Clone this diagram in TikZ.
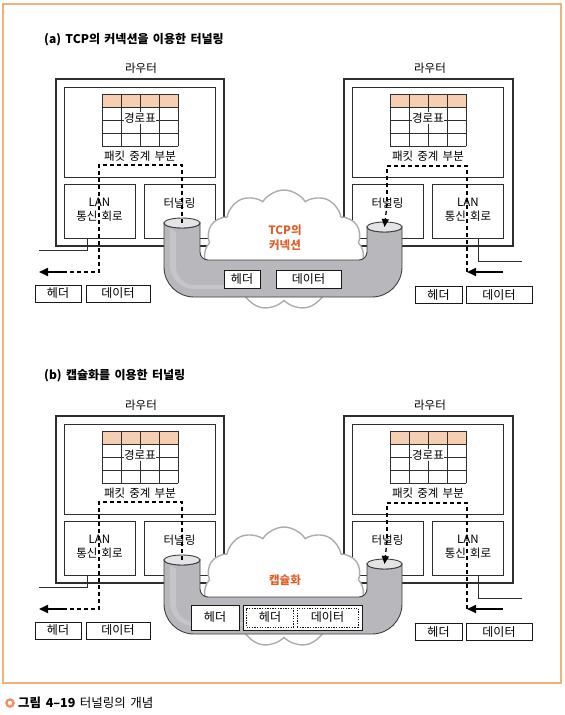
\documentclass[tikz,border=0pt]{standalone}
\usepackage{fontspec}
\setmainfont[WordSpace=1.6]{Noto Sans CJK KR}
\usetikzlibrary{shapes.symbols,shapes.geometric,arrows.meta}
\definecolor{frameor}{HTML}{F0B27A}
\definecolor{tblor}{HTML}{F6CFB2}
\definecolor{txtor}{HTML}{E0602A}
\definecolor{pipegray}{HTML}{B7B7BC}
\definecolor{pipetop}{HTML}{E4E4E6}
\definecolor{lineg}{HTML}{2E2E2E}
\tikzset{
  lbl/.style={font=\fontsize{11.5}{13.5}\selectfont, text=black, inner sep=1pt, align=center},
  titletxt/.style={font=\bfseries\fontsize{12}{14}\selectfont, text=black, anchor=west, inner sep=0pt},
  boxr/.style={draw=lineg, line width=0.9pt, inner sep=0pt},
  outerbox/.style={draw=lineg, line width=1.1pt},
  gridline/.style={draw=lineg, line width=0.7pt},
  pathdash/.style={draw=black, line width=1.3pt, dash pattern=on 4pt off 3pt},
  bigarrow/.style={draw=black, line width=1.7pt, -{Triangle[length=9pt,width=8pt]}},
  downarrow/.style={draw=black, line width=1.3pt, dash pattern=on 4pt off 3pt, -{Triangle[length=8pt,width=7pt]}},
  wire/.style={draw=lineg, line width=1pt},
  databox/.style={draw=black!90, line width=1pt, fill=white, inner sep=0pt, font=\fontsize{12}{13}\selectfont},
  dotbox/.style={draw=black!90, line width=0.9pt, dash pattern=on 1.3pt off 1.3pt, fill=white, inner sep=0pt, font=\fontsize{12}{13}\selectfont},
  pipeline/.style={draw=black!75, line width=0.9pt},
  cloudtxt/.style={font=\bfseries\fontsize{11.5}{15}\selectfont, text=txtor, align=center, inner sep=0pt},
}
\newcommand\routertable[1]{%
  \fill[tblor] (#1-38,94) rectangle (#1+38,107);
  \foreach \yy in {94,107,120,133,146} \draw[gridline] (#1-38,\yy) -- (#1+38,\yy);
  \foreach \xx in {-38,-19,0,19,38} \draw[gridline] (#1+\xx,94) -- (#1+\xx,146);
}
\newcommand\tunnelpanel{%
  % ---- left router
  \node[lbl] (rtl) at (141,68) {라우터};
  \node[outerbox, minimum width=168pt, minimum height=167pt, inner sep=0pt] (rl) at (140,162.5) {};
  \node[boxr, minimum width=151pt, minimum height=90pt] (rlt) at (139.5,132) {};
  \routertable{140}
  \node[lbl, fill=white, inner sep=0.6pt] (tbl) at (140,118) {경로표};
  \node[lbl] (rlp) at (140,156) {패킷 중계 부분};
  \node[boxr, minimum width=71pt, minimum height=54pt] (lanl) at (99.5,211) {};
  \node[boxr, minimum width=71pt, minimum height=54pt] (tunl) at (179.5,211) {};
  \node[lbl] (lanltxt) at (99.5,209.5) {LAN\\통신 회로};
  \node[lbl] (tunltxt) at (179.5,203) {터널링};
  % ---- right router
  \node[lbl] (rtr) at (430,68) {라우터};
  \node[outerbox, minimum width=169pt, minimum height=167pt, inner sep=0pt] (rr) at (428.5,162.5) {};
  \node[boxr, minimum width=151pt, minimum height=90pt] (rrt) at (427.5,132) {};
  \routertable{428}
  \node[lbl, fill=white, inner sep=0.6pt] (tbr) at (428,118) {경로표};
  \node[lbl] (rrp) at (428,156) {패킷 중계 부분};
  \node[boxr, minimum width=71pt, minimum height=54pt] (tunr) at (387.5,211) {};
  \node[boxr, minimum width=71pt, minimum height=54pt] (lanr) at (468,211) {};
  \node[lbl] (tunrtxt) at (387.5,203) {터널링};
  \node[lbl] (lanrtxt) at (468,209.5) {LAN\\통신 회로};
  % ---- wires
  \coordinate (wl1) at (87,250); \coordinate (wl2) at (39,250);
  \draw[wire] (lanl.south -| wl1) -- (wl1) -- (wl2);
  \coordinate (wr1) at (478,261); \coordinate (wr2) at (522,261);
  \draw[wire] (lanr.south -| wr1) -- (wr1) -- (wr2);
  % ---- outside packets
  \node[databox, minimum width=46pt, minimum height=17pt] (hl) at (58,293.5) {헤더};
  \node[databox, minimum width=64pt, minimum height=17pt] (dl) at (118,293.5) {데이터};
  \node[databox, minimum width=47pt, minimum height=17pt] (hr) at (438.5,295) {헤더};
  \node[databox, minimum width=66pt, minimum height=17pt] (dr) at (499,295) {데이터};
  % ---- cloud
  \node[cloud, cloud puffs=11, cloud puff arc=115, draw=gray!65, fill=white, line width=1.4pt,
        minimum width=160pt, minimum height=120pt, inner sep=0pt] (cl) at (284,250) {};
  % ---- pipe
  \fill[pipegray] (164,223) -- (164,267) arc[start angle=180,end angle=90,radius=30]
     -- (372,297) arc[start angle=90,end angle=0,radius=30]
     -- (402,227) arc[start angle=0,end angle=180,x radius=17.5,y radius=5]
     -- (367,252) arc[start angle=0,end angle=90,radius=8]
     -- (208,260) arc[start angle=90,end angle=180,radius=8]
     -- (200,223) arc[start angle=0,end angle=180,x radius=18,y radius=5] -- cycle;
  \fill[white, opacity=0.22] (170,228) -- (170,265) arc[start angle=180,end angle=90,radius=24]
     -- (250,289) -- (250,285) -- (194,285) arc[start angle=90,end angle=180,radius=18] -- (176,232) -- cycle;
  \draw[pipeline] (164,223) -- (164,267) arc[start angle=180,end angle=90,radius=30]
     -- (372,297) arc[start angle=90,end angle=0,radius=30]
     -- (402,227) arc[start angle=0,end angle=180,x radius=17.5,y radius=5]
     -- (367,252) arc[start angle=0,end angle=90,radius=8]
     -- (208,260) arc[start angle=90,end angle=180,radius=8]
     -- (200,223) arc[start angle=0,end angle=180,x radius=18,y radius=5] -- cycle;
  \node[pipeline, fill=pipetop, ellipse, minimum width=36pt, minimum height=10pt, inner sep=0pt] (pl) at (182,223) {};
  \node[pipeline, fill=pipetop, ellipse, minimum width=35pt, minimum height=10pt, inner sep=0pt] (pr) at (384.5,227) {};
  % ---- left path
  \coordinate (l1) at (182,165); \coordinate (l2) at (99,165);
  \coordinate (l3) at (99,272); \coordinate (l4) at (64,272); \coordinate (l5) at (39,272);
  \draw[pathdash] (pl.center) -- (l1) -- (l2) -- (l3) -- (l4);
  \draw[bigarrow] (l4) ++(2,0) -- (l5);
  % ---- right path
  \coordinate (r0) at (503,272); \coordinate (r1) at (467,272);
  \coordinate (r2) at (467,166); \coordinate (r3) at (387,166);
  \draw[bigarrow] (r0) -- (r1);
  \draw[pathdash] (r1) -- (r2) -- (r3) -- (387,205);
  \draw[downarrow] (387,204) -- (pr.center);
}
\begin{document}
\begin{tikzpicture}[x=1pt,y=-1pt]
\useasboundingbox (0,0) rectangle (565,715);
\draw[frameor, line width=1.1pt] (3,4) rectangle (561,683);
% ===== panel (a)
\begin{scope}[name prefix=a-]
  \node[titletxt] (title) at (44,40) {(a) TCP의 커넥션을 이용한 터널링};
  \tunnelpanel
  \node[cloudtxt] (ct) at (285,238) {TCP의\\커넥션};
  \node[databox, minimum width=36pt, minimum height=18pt] (ph) at (242,279) {헤더};
  \node[databox, minimum width=65pt, minimum height=18pt] (pd) at (308.5,279) {데이터};
\end{scope}
% ===== panel (b)
\begin{scope}[yshift=-337pt, name prefix=b-]
  \node[titletxt] (title) at (44,39) {(b) 캡슐화를 이용한 터널링};
  \tunnelpanel
  \node[cloudtxt] (ct) at (285,243) {캡슐화};
  \node[databox, minimum width=48pt, minimum height=25pt] (ph) at (215,280.5) {헤더};
  \node[databox, minimum width=119pt, minimum height=25pt] (pin) at (302.5,280.5) {};
  \node[dotbox, minimum width=47pt, minimum height=19pt] (ph2) at (270,280.5) {헤더};
  \node[dotbox, minimum width=61pt, minimum height=19pt] (pd2) at (327.5,280.5) {데이터};
\end{scope}
% ===== caption
\draw[frameor!80!red, line width=2.3pt] (10,703) circle (3.6);
\node[anchor=west, inner sep=0pt, font=\fontsize{12.5}{14}\selectfont] (cap) at (18,703) {\textbf{그림 4–19} 터널링의 개념};
\end{tikzpicture}
\end{document}
